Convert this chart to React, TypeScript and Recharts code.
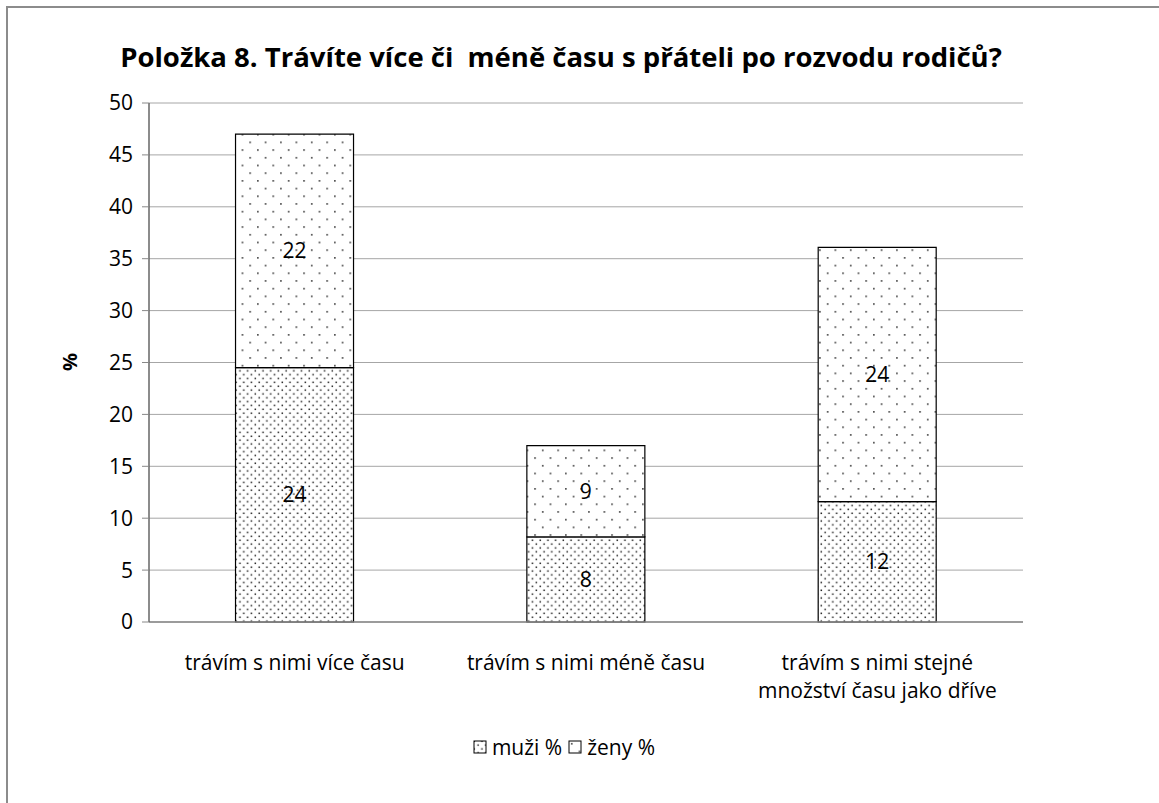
import React from "react";
import {
  BarChart,
  Bar,
  XAxis,
  YAxis,
  CartesianGrid,
  Legend,
  LabelList,
} from "recharts";

const categories = [
  "trávím s nimi více času",
  "trávím s nimi méně času",
  "trávím s nimi stejné\nmnožství času jako dříve",
];
const muzi = [24.5, 8.2, 11.6];
const zeny = [22.5, 8.8, 24.5];
const muziLabels = ["24", "8", "12"];
const zenyLabels = ["22", "9", "24"];
const yTicks = [0, 5, 10, 15, 20, 25, 30, 35, 40, 45, 50];
const edgeTicks = [0, 1, 2, 3];
const seriesNames = ["muži %", "ženy %"];
const titleText = "Položka 8. Trávíte více či  méně času s přáteli po rozvodu rodičů?";
const yTitle = "%";

const data = categories.map((c, i) => ({
  name: c,
  muzi: muzi[i],
  zeny: zeny[i],
  muziLabel: muziLabels[i],
  zenyLabel: zenyLabels[i],
}));

const FONT = "'Open Sans', 'Noto Sans', sans-serif";

const CatTick = (props: any) => {
  const { x, y, payload } = props;
  const lines = String(payload.value).split("\n");
  return (
    <text
      x={x}
      y={y}
      textAnchor="middle"
      fontFamily={FONT}
      fontSize={21}
      fill="#000"
    >
      {lines.map((l: string, i: number) => (
        <tspan key={i} x={x} dy={i === 0 ? 40 : 28}>
          {l}
        </tspan>
      ))}
    </text>
  );
};

const LegendContent = () => (
  <div
    style={{
      height: 24,
      display: "flex",
      justifyContent: "center",
      alignItems: "center",
      fontFamily: FONT,
      fontSize: 21,
      color: "#000",
      paddingLeft: 22,
    }}
  >
    {seriesNames.map((n, i) => (
      <span key={n} style={{ display: "inline-flex", alignItems: "center", marginRight: 6 }}>
        <svg width={14} height={14} style={{ marginRight: 5 }}>
          <rect
            x={1}
            y={1}
            width={12}
            height={12}
            fill={i === 0 ? "url(#pMuzi)" : "url(#pZeny)"}
            stroke="#000"
            strokeWidth={1}
          />
        </svg>
        {n}
      </span>
    ))}
  </div>
);

export default function App() {
  return (
    <div
      style={{
        position: "absolute",
        left: 0,
        top: 0,
        width: 1159,
        height: 803,
        overflow: "hidden",
        background: "#fff",
      }}
    >
      <div
        style={{
          position: "absolute",
          left: 6,
          top: 6,
          width: 1300,
          height: 1000,
          borderLeft: "2px solid #8c8c8c",
          borderTop: "2px solid #8c8c8c",
        }}
      />
      <div
        style={{
          position: "absolute",
          left: 0,
          top: 38,
          width: 1122,
          textAlign: "center",
          fontFamily: FONT,
          fontWeight: 700,
          fontSize: 27.5,
          whiteSpace: "pre",
          color: "#000",
        }}
      >
        {titleText}
      </div>
      <div
        style={{
          position: "absolute",
          left: 58,
          top: 350,
          width: 24,
          height: 24,
          transform: "rotate(-90deg)",
          fontFamily: FONT,
          fontWeight: 700,
          fontSize: 20,
          textAlign: "center",
          lineHeight: "24px",
        }}
      >
        {yTitle}
      </div>
      <div style={{ position: "absolute", left: 0, top: 0 }}>
        <BarChart
          width={1159}
          height={803}
          data={data}
          margin={{ top: 103, right: 136, bottom: 44, left: 89 }}
          barCategoryGap="29.7%"
        >
          <defs>
            <pattern id="pMuzi" width="7.7" height="7.7" patternUnits="userSpaceOnUse">
              <rect width="7.7" height="7.7" fill="#fff" />
              <rect x="0.5" y="0.5" width="1.5" height="1.5" fill="#222" />
              <rect x="4.35" y="4.35" width="1.5" height="1.5" fill="#222" />
            </pattern>
            <pattern id="pZeny" width="15.4" height="15.4" patternUnits="userSpaceOnUse">
              <rect width="15.4" height="15.4" fill="#fff" />
              <rect x="3" y="3" width="1.5" height="1.5" fill="#222" />
              <rect x="10.7" y="10.7" width="1.5" height="1.5" fill="#222" />
            </pattern>
          </defs>
          <CartesianGrid
            xAxisId="cat"
            yAxisId="left"
            vertical={false}
            stroke="#a6a6a6"
            strokeWidth={1}
          />
          <XAxis
            xAxisId="edge"
            type="number"
            domain={[0, 3]}
            ticks={edgeTicks}
            tickFormatter={() => ""}
            height={0}
            axisLine={false}
            tickLine={{ stroke: "#888" }}
            tickSize={7}
          />
          <XAxis
            xAxisId="cat"
            dataKey="name"
            height={113}
            axisLine={{ stroke: "#888", strokeWidth: 1.5 }}
            tickLine={false}
            tick={<CatTick />}
            interval={0}
          />
          <XAxis
            xAxisId="top"
            orientation="top"
            type="number"
            domain={[0, 1]}
            height={0}
            tick={false}
            tickLine={false}
            axisLine={{ stroke: "#222", strokeWidth: 1.5 }}
          />
          <YAxis
            yAxisId="left"
            domain={[0, 50]}
            ticks={yTicks}
            width={60}
            interval={0}
            axisLine={{ stroke: "#666", strokeWidth: 1.5 }}
            tickLine={{ stroke: "#888" }}
            tickSize={7}
            tickMargin={9}
            tick={{ fontFamily: FONT, fontSize: 21, fill: "#000" }}
          />
          <YAxis
            yAxisId="right"
            orientation="right"
            domain={[0, 50]}
            width={0}
            tick={false}
            tickLine={false}
            axisLine={{ stroke: "#222", strokeWidth: 1.5 }}
          />
          <Legend verticalAlign="bottom" content={<LegendContent />} />
          <Bar
            xAxisId="cat"
            yAxisId="left"
            dataKey="muzi"
            name={seriesNames[0]}
            stackId="a"
            fill="url(#pMuzi)"
            stroke="#000"
            strokeWidth={1.2}
            isAnimationActive={false}
          >
            <LabelList
              dataKey="muziLabel"
              position="center"
              fill="#000"
              fontFamily={FONT}
              fontSize={21}
            />
          </Bar>
          <Bar
            xAxisId="cat"
            yAxisId="left"
            dataKey="zeny"
            name={seriesNames[1]}
            stackId="a"
            fill="url(#pZeny)"
            stroke="#000"
            strokeWidth={1.2}
            isAnimationActive={false}
          >
            <LabelList
              dataKey="zenyLabel"
              position="center"
              fill="#000"
              fontFamily={FONT}
              fontSize={21}
            />
          </Bar>
        </BarChart>
      </div>
    </div>
  );
}
